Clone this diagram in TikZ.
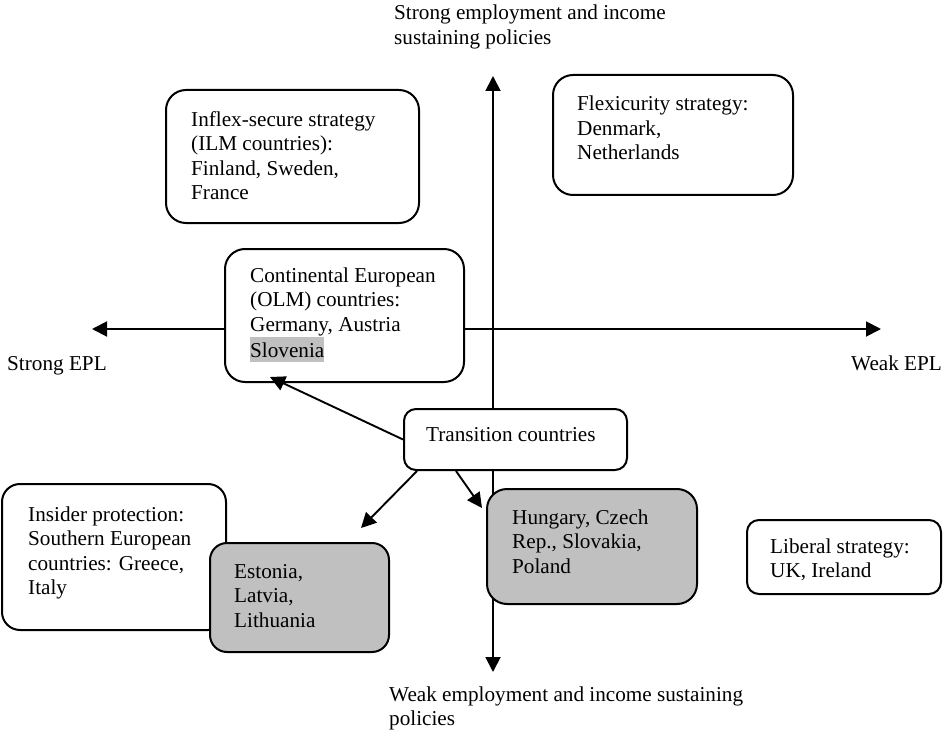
\documentclass[tikz,border=0pt]{standalone}
\usepackage{fontspec}
\setmainfont{Liberation Serif}
\usetikzlibrary{arrows.meta,calc}
\definecolor{boxgray}{RGB}{192,192,192}
\newcommand\hlword[1]{{\setlength{\fboxsep}{0pt}\colorbox{boxgray}{\rule[-4.5pt]{0pt}{25pt}#1}}}
\begin{document}
\begin{tikzpicture}[x=1pt,y=-1pt,
  every node/.style={font=\fontsize{21.2pt}{24.5pt}\selectfont},
  box/.style={draw, line width=2pt, fill=white, inner sep=0pt, rounded corners=#1},
  box/.default=20pt,
  shaded/.style={fill=boxgray},
  lbl/.style={inner sep=0pt, align=left, anchor=base west},
  conn/.style={line width=1.9pt, -{Triangle[length=15pt,width=15pt]}},
  axis/.style={line width=1.9pt, {Triangle[length=15pt,width=15pt]}-{Triangle[length=15pt,width=15pt]}},
]
\useasboundingbox (0,0) rectangle (943,733);

% axes
\coordinate (ytop) at (493,76);
\coordinate (ybot) at (493,672);
\coordinate (xl) at (92,329);
\coordinate (xr) at (881,329);
\draw[axis] (ybot) -- (ytop);
\draw[axis] (xl) -- (xr);

% axis labels (anchor = baseline of the last line)
\node[lbl] (toplbl) at (394,44.5) {Strong employment and income\\sustaining policies};
\node[lbl] (botlbl) at (389,725.5) {Weak employment and income sustaining\\policies};
\node[lbl] (strongepl) at (7,370) {Strong EPL};
\node[lbl] (weakepl) at (851,370) {Weak EPL};

% boxes
\node[box, minimum width=253, minimum height=133] (inflex) at (292.5,156.5) {};
\node[lbl] (inflext) at ($(inflex.north west)+(26,110.5)$) {Inflex-secure strategy\\(ILM countries):\\Finland, Sweden,\\France};

\node[box, minimum width=240, minimum height=120] (flex) at (673,135) {};
\node[lbl] (flext) at ($(flex.north west)+(25,86)$) {Flexicurity strategy:\\Denmark,\\Netherlands};

\node[box, minimum width=239, minimum height=133] (cont) at (344.5,315.5) {};
\node[lbl] (contt) at ($(cont.north west)+(26,109.5)$) {Continental European\\(OLM) countries:\\Germany, Austria\\\hlword{Slovenia}};

\node[box=12pt, minimum width=223, minimum height=61] (trans) at (515.5,439.5) {};
\node[lbl] (transt) at ($(trans.north west)+(23,33)$) {Transition countries};

\node[box=18pt, minimum width=224, minimum height=146] (insider) at (114,557) {};
\node[lbl] (insidert) at ($(insider.north west)+(27,111.5)$) {Insider protection:\\Southern European\\countries: Greece,\\Italy};

\node[box=17pt, shaded, minimum width=179, minimum height=109] (baltic) at (299.5,597.5) {};
\node[lbl] (baltict) at ($(baltic.north west)+(25,85)$) {Estonia,\\Latvia,\\Lithuania};

\node[box, shaded, minimum width=210, minimum height=115] (central) at (592,546.5) {};
\node[lbl] (centralt) at ($(central.north west)+(26,85)$) {Hungary, Czech\\Rep., Slovakia,\\Poland};

\node[box=12pt, minimum width=194, minimum height=74] (liberal) at (844,557) {};
\node[lbl] (liberalt) at ($(liberal.north west)+(24,58.5)$) {Liberal strategy:\\UK, Ireland};

% connectors
\draw[conn] (trans.west) -- ($(cont.south west)+(46,-6)$);
\draw[conn] ($(trans.south west)+(14,0)$) -- ($(baltic.north east)+(-29,-14)$);
\draw[conn] ($(trans.south west)+(53,0)$) -- ($(central.north west)+(-4,20)$);
\end{tikzpicture}
\end{document}
